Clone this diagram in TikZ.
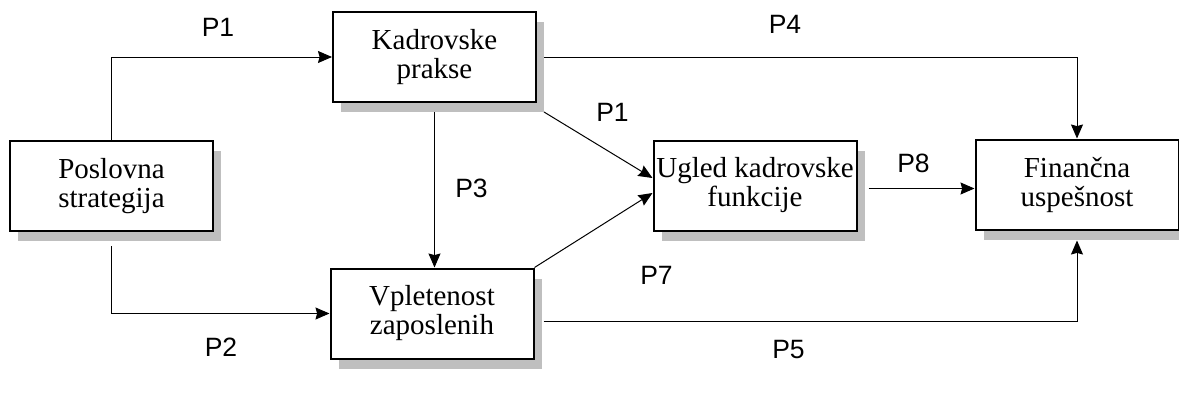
\documentclass[tikz,border=0pt]{standalone}
\usepackage{fontspec}
\setmainfont{Liberation Serif}
\setsansfont{Liberation Sans}
\usetikzlibrary{arrows.meta,shadows}
\tikzset{
  blok/.style={
    draw,
    line width=1pt,
    fill=white,
    minimum width=101.5pt,
    minimum height=45pt,
    align=center,
    inner sep=1pt,
    font=\fontsize{14.5}{14.5}\selectfont,
    drop shadow={shadow xshift=4pt,shadow yshift=-5pt,fill=black!25,opacity=1}
  },
  flow/.style={-{Stealth[length=7pt,width=6pt,inset=0.8pt]},line width=0.5pt},
  oznaka/.style={font=\sffamily\fontsize{13.25}{13.25}\selectfont}
}

\begin{document}
\begin{tikzpicture}[x=0.5pt,y=-0.5pt]
\useasboundingbox (0,0) rectangle (1179,412);

\node[blok] (post) at (111.5,186) {Poslovna\\strategija};
\node[blok] (kadr) at (434.5,57) {Kadrovske\\prakse};
\node[blok] (vple) at (432,313.5) {Vpletenost\\zaposlenih};
\node[blok] (ugl) at (755,185.5) {Ugled kadrovske\\funkcije};
\node[blok] (fin) at (1077,184.5) {Finančna\\uspešnost};

\draw[flow] (post.north) |- (kadr.west);
\draw[flow] ([yshift=-7pt]post.south) |- (vple.west);
\draw[flow] ([yshift=-4.5pt]kadr.south) -- (kadr.south |- vple.north);
\draw[flow] ([xshift=3.5pt]kadr.east) -| (fin.north);
\draw[flow] ([xshift=3.5pt,yshift=-4.5pt]kadr.south east) -- ([yshift=3.75pt]ugl.west);
\draw[flow] (vple.north east) -- ([yshift=-3.75pt]ugl.west);
\draw[flow] ([xshift=5.5pt,yshift=-1.5pt]ugl.east) -- ([yshift=-1.5pt]ugl.east -| fin.west);
\draw[flow] ([xshift=4.5pt,yshift=-4pt]vple.east) -| ([yshift=-5pt]fin.south);

\node[oznaka] (lp1) at (218,27) {P1};
\node[oznaka] (lp2) at (221,347) {P2};
\node[oznaka] (lp3) at (471.5,188) {P3};
\node[oznaka] (lp1b) at (612.5,112) {P1};
\node[oznaka] (lp4) at (785,24) {P4};
\node[oznaka] (lp7) at (656.5,275) {P7};
\node[oznaka] (lp8) at (913.5,163) {P8};
\node[oznaka] (lp5) at (788.5,350) {P5};
\end{tikzpicture}
\end{document}
